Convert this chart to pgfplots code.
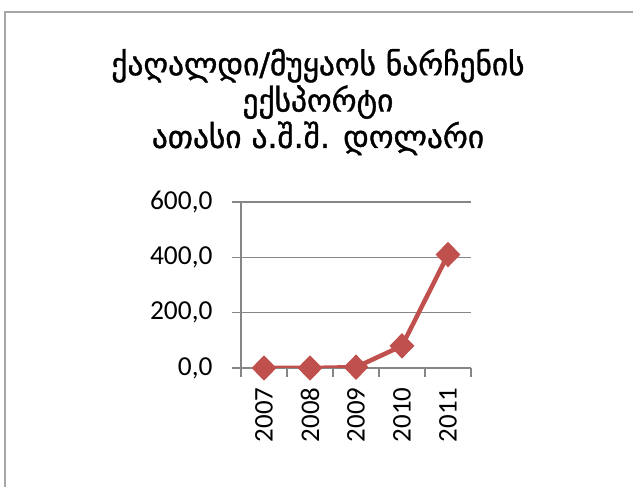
\documentclass[border=0pt]{standalone}
\usepackage{fontspec}
\setmainfont{Carlito}
\newfontfamily\geofont[Script=Georgian, FakeBold=1.2]{DejaVu Sans}
\usepackage{pgfplots}
\pgfplotsset{compat=1.18}
\definecolor{serred}{HTML}{C0504D}
\definecolor{gridgray}{HTML}{868686}

\begin{document}
\begin{tikzpicture}[x=1bp,y=1bp]
\path[use as bounding box] (0,0) rectangle (633,487);
% chart area border (only left and top visible)
\draw[gray!70, line width=2bp] (5,-5) -- (5,475) -- (640,475);
\node[align=center, font=\geofont\fontsize{31.5}{36.5}\selectfont] at (318,385)
  {ქაღალდი/მუყაოს ნარჩენის\\ექსპორტი\\ათასი ა.შ.შ. დოლარი};
\begin{axis}[
    scale only axis,
    width=230bp, height=166bp,
    at={(241bp,119bp)}, anchor=south west,
    xmin=-0.5, xmax=4.5,
    ymin=0, ymax=600,
    axis x line*=bottom, axis y line*=left,
    axis line style={gridgray, line width=1.5bp},
    xtick={0,...,4},
    xticklabels={2007,2008,2009,2010,2011},
    major x tick style={draw=none},
    minor xtick={-0.5,0.5,1.5,2.5,3.5,4.5},
    ytick={0,200,400,600},
    ymajorgrids,
    grid style={gridgray, line width=1.5bp},
    tick style={gridgray, line width=1.5bp},
    tick align=outside,
    major tick length=9bp, minor tick length=9bp,
    xticklabel shift=7bp,
    yticklabel shift=16bp,
    x tick label style={rotate=90, anchor=east, font=\fontsize{27}{27}\selectfont},
    y tick label style={font=\fontsize{27.5}{27.5}\selectfont},
    yticklabel style={/pgf/number format/.cd, fixed, fixed zerofill, precision=1,
      use comma, 1000 sep={}, assume math mode=true},
  ]
  % export, thousand USD
  \addplot[color=serred, line width=4.5bp, mark=diamond*, mark size=9.5bp,
    mark options={solid, fill=serred, xscale=1.3}] coordinates {
      (0, 0)
      (1, 0)
      (2, 3)
      (3, 80)
      (4, 410)
    };
\end{axis}
\end{tikzpicture}
\end{document}
